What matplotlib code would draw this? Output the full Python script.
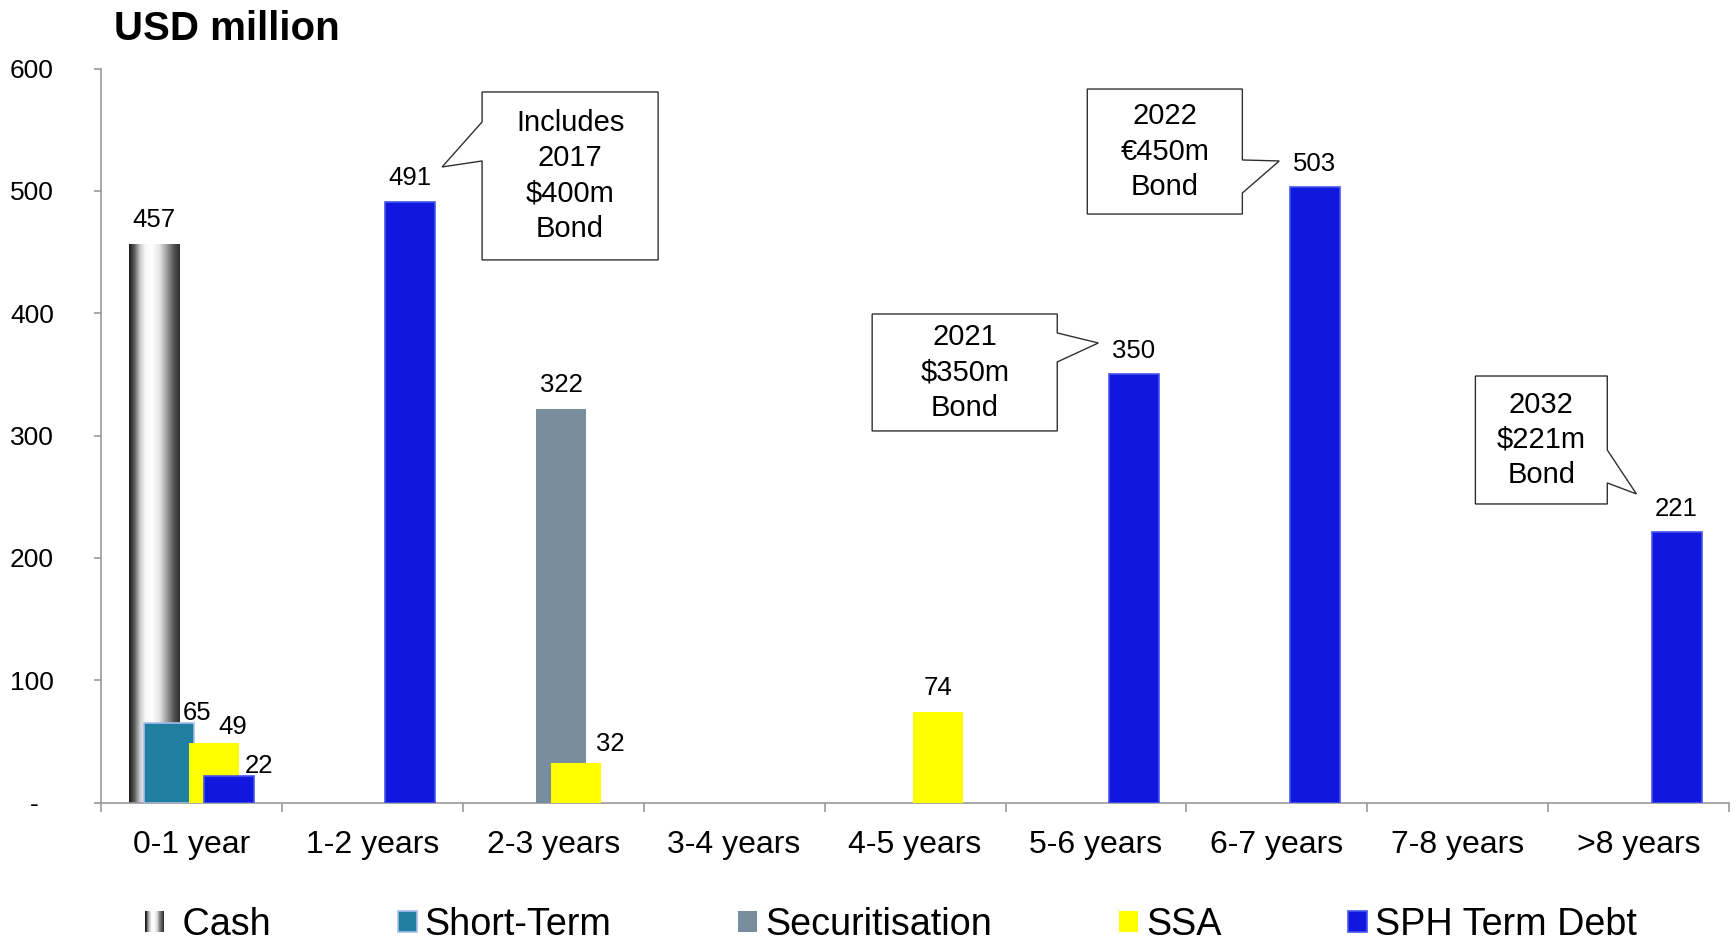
import numpy as np
import matplotlib.pyplot as plt
from matplotlib.patches import Rectangle, Polygon
from matplotlib.colors import LinearSegmentedColormap
from matplotlib.legend_handler import HandlerBase

plt.rcParams['font.family'] = ['Liberation Sans', 'DejaVu Sans']

categories = ['0-1 year', '1-2 years', '2-3 years', '3-4 years', '4-5 years',
              '5-6 years', '6-7 years', '7-8 years', '>8 years']
cash = [457, 0, 0, 0, 0, 0, 0, 0, 0]
short_term = [65, 0, 0, 0, 0, 0, 0, 0, 0]
securitisation = [0, 0, 322, 0, 0, 0, 0, 0, 0]
ssa = [49, 0, 32, 0, 74, 0, 0, 0, 0]
sph_term_debt = [22, 491, 0, 0, 0, 350, 503, 0, 221]

y_ticks = [0, 100, 200, 300, 400, 500, 600]
y_tick_labels = ['-  ', '100', '200', '300', '400', '500', '600']

callout_texts = ['Includes\n2017\n$400m\nBond', '2021\n$350m\nBond',
                 '2022\n€450m\nBond', '2032\n$221m\nBond']

# name, values, offset in group, face, edge
series = [
    ('Cash', cash, -0.206, None, 'none'),
    ('Short-Term', short_term, -0.121, '#1f7fa0', '#a8bde8'),
    ('Securitisation', securitisation, 0.044, '#788d9e', 'none'),
    ('SSA', ssa, 0.127, '#ffff00', 'none'),
    ('SPH Term Debt', sph_term_debt, 0.209, '#1018e0', '#4655ec'),
]
bar_w = 0.277

# label nudges (points) where Excel shifted labels sideways
label_shift = {('Short-Term', 0): (20, 2), ('SSA', 0): (13.5, 6),
               ('SPH Term Debt', 0): (21.5, 2), ('SSA', 2): (24.5, 9)}

cash_cmap = LinearSegmentedColormap.from_list('cash', [
    (0.0, '#1a1a1a'), (0.1, '#595959'), (0.22, '#cccccc'), (0.32, '#f7f7f7'),
    (0.45, '#ffffff'), (0.6, '#e6e6e6'), (0.75, '#9a9a9a'), (0.88, '#555555'),
    (1.0, '#2e2e2e')])


class GradientHandler(HandlerBase):
    def create_artists(self, legend, orig_handle, xdescent, ydescent,
                       width, height, fontsize, trans):
        n = 24
        out = []
        for i in range(n):
            out.append(Rectangle((-xdescent + i * width / n, -ydescent), width / n, height,
                                 facecolor=cash_cmap(i / (n - 1)), edgecolor='none',
                                 transform=trans))
        return out


fig = plt.figure(figsize=(17.36, 9.41), dpi=100)
ax = fig.add_axes([0.0581, 0.1471, 0.938, 0.780])

x = np.arange(len(categories))
handles = []
for name, vals, off, face, edge in series:
    vals = np.array(vals, dtype=float)
    keep = vals > 0
    xs = x[keep] + off
    if name == 'Cash':
        bars = ax.bar(xs, vals[keep], bar_w, facecolor='none', edgecolor='none', zorder=2)
        grad = np.linspace(0, 1, 256).reshape(1, -1)
        for b in bars:
            im = ax.imshow(grad, cmap=cash_cmap, aspect='auto', zorder=2,
                           extent=[b.get_x(), b.get_x() + b.get_width(), 0, b.get_height()])
            im.set_clip_path(b)
        handles.append(Rectangle((0, 0), 1, 1, label=name))
    else:
        ax.bar(xs, vals[keep], bar_w, color=face, edgecolor=edge, linewidth=1.2, zorder=3)
        handles.append(Rectangle((0, 0), 1, 1, facecolor=face, edgecolor=edge,
                                 linewidth=1.2, label=name))
    for xi, v, ci in zip(xs, vals[keep], x[keep]):
        dx, dy = label_shift.get((name, ci), (0, 12))
        ax.annotate(f'{v:.0f}', (xi, v), xytext=(dx, dy), textcoords='offset points',
                    ha='center', va='baseline', fontsize=18.5, zorder=5)

# callout boxes: (x0, x1, y_bottom, y_top), side, pointer base ys, tip
callout_layout = [
    ((1.607, 2.580, 443.6, 580.9), 'left', (556.4, 524.5), (1.386, 519.6)),
    ((3.763, 4.786, 303.8, 399.4), 'right', (383.9, 360.2), (5.013, 375.7)),
    ((4.952, 5.809, 481.1, 583.3), 'right', (525.3, 498.3), (6.013, 524.5)),
    ((7.097, 7.826, 244.1, 348.7), 'right', (288.2, 261.3), (7.987, 252.3)),
]
for txt, (box, side, (ya, yb), tip) in zip(callout_texts, callout_layout):
    x0, x1, y0, y1 = box
    if side == 'left':
        pts = [(x0, y1), (x1, y1), (x1, y0), (x0, y0), (x0, yb), tip, (x0, ya)]
    else:
        pts = [(x0, y1), (x1, y1), (x1, ya), tip, (x1, yb), (x1, y0), (x0, y0)]
    ax.add_patch(Polygon(pts, closed=True, facecolor='white', edgecolor='#303030',
                         linewidth=1.0, zorder=6))
    ax.text((x0 + x1) / 2, (y0 + y1) / 2, txt, ha='center', va='center',
            fontsize=21, linespacing=1.32, zorder=7)

ax.set_xlim(-0.5, len(categories) - 0.5)
ax.set_ylim(0, 600)

for s in ['top', 'right']:
    ax.spines[s].set_visible(False)
for s in ['left', 'bottom']:
    ax.spines[s].set_color('#999999')
    ax.spines[s].set_linewidth(1.2)

ax.set_yticks(y_ticks)
ax.set_yticklabels(y_tick_labels, fontsize=19)
ax.tick_params(axis='y', length=5.3, width=1.2, color='#999999', pad=28.6)

ax.set_xticks(np.arange(len(categories) + 1) - 0.5)
ax.set_xticklabels([])
ax.set_xticks(x, minor=True)
ax.set_xticklabels(categories, minor=True, fontsize=23)
ax.tick_params(axis='x', which='major', length=6.5, width=1.2, color='#999999')
ax.tick_params(axis='x', which='minor', length=0, pad=19.5)

fig.text(114 / 1736, 1 - 40 / 941, 'USD million', fontsize=29, fontweight='bold',
         va='baseline', ha='left')

legend_labels = [' ' + series[0][0]] + [s[0] for s in series[1:]]
fig.legend(handles=handles, labels=legend_labels, ncol=5, frameon=False,
           loc='center left', bbox_to_anchor=(145 / 1736, 1 - 925 / 941),
           fontsize=27.2, handlelength=0.51, handleheight=0.51, handletextpad=0.21,
           columnspacing=3.35, borderpad=0, borderaxespad=0,
           handler_map={handles[0]: GradientHandler()})

fig.savefig('out.png', dpi=100)
